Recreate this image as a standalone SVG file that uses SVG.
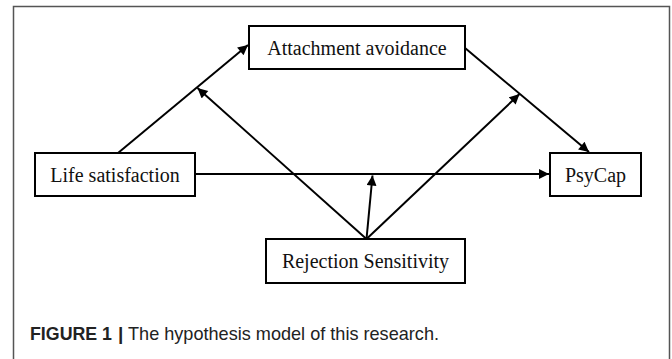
<svg xmlns="http://www.w3.org/2000/svg" width="672" height="359" viewBox="0 0 672 359">
<defs>
<style>
.box{fill:#fff;stroke:#000;stroke-width:2}
.lbl{font-family:"Liberation Serif","Times New Roman",serif;font-size:20px;fill:#111;text-anchor:middle}
.con{stroke:#000;stroke-width:2;fill:none;marker-end:url(#ah)}
.cap{font-family:"Liberation Sans",Arial,sans-serif;font-size:19px;fill:#222}
</style>
<marker id="ah" viewBox="0 0 10 10" refX="10" refY="5" markerWidth="6" markerHeight="5" markerUnits="strokeWidth" orient="auto">
<path d="M0,0 L10,5 L0,10 z" fill="#000"/>
</marker>
</defs>
<rect width="672" height="359" fill="#fff"/>
<path d="M13.5,359 V6.5 H669.5 V359" fill="none" stroke="#555" stroke-width="1.5"/>
<g id="connectors">
<line class="con" x1="118" y1="153" x2="248" y2="45"/>
<line class="con" x1="465" y1="48" x2="589" y2="152"/>
<line class="con" x1="195" y1="174" x2="549" y2="174"/>
<line class="con" x1="366.5" y1="239" x2="197.5" y2="88"/>
<line class="con" x1="366.5" y1="239" x2="519.5" y2="94"/>
<line class="con" x1="366.5" y1="239" x2="372.5" y2="175.5"/>
</g>
<g id="attachment-avoidance">
<rect class="box" x="249" y="26" width="216" height="43"/>
<text class="lbl" x="357" y="54.5">Attachment avoidance</text>
</g>
<g id="life-satisfaction">
<rect class="box" x="35" y="153" width="160" height="43"/>
<text class="lbl" x="115" y="181.5">Life satisfaction</text>
</g>
<g id="psycap">
<rect class="box" x="550" y="153" width="91" height="43"/>
<text class="lbl" x="595.5" y="181.5">PsyCap</text>
</g>
<g id="rejection-sensitivity">
<rect class="box" x="266" y="239" width="199" height="44"/>
<text class="lbl" x="365.5" y="267.5">Rejection Sensitivity</text>
</g>
<g id="caption">
<text class="cap" x="30" y="340" font-weight="bold" textLength="82" lengthAdjust="spacingAndGlyphs">FIGURE 1</text>
<text class="cap" x="118" y="340" font-weight="bold">|</text>
<text class="cap" x="128" y="340" textLength="311" lengthAdjust="spacingAndGlyphs">The hypothesis model of this research.</text>
</g>
</svg>
